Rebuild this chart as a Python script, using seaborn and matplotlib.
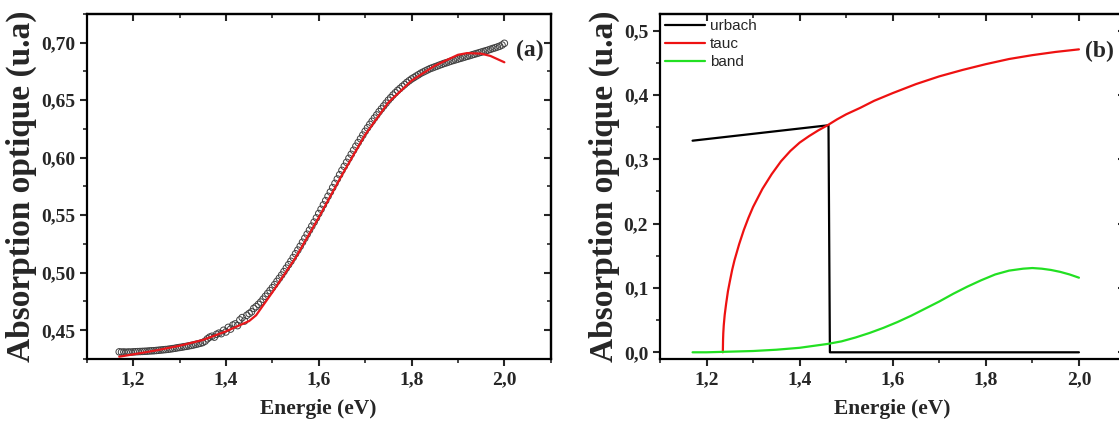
import numpy as np
import pandas as pd
import seaborn as sns
import matplotlib.pyplot as plt
from matplotlib.ticker import MultipleLocator, FuncFormatter

sns.set_style('white')
plt.rcParams['font.family'] = ['Liberation Serif', 'DejaVu Serif']

# (a) measured absorption (circles)
energy_exp = [1.170, 1.175, 1.180, 1.185, 1.190, 1.195, 1.200, 1.205, 1.210, 1.215,
              1.220, 1.225, 1.230, 1.235, 1.240, 1.245, 1.250, 1.255, 1.260, 1.265,
              1.270, 1.275, 1.280, 1.285, 1.290, 1.295, 1.300, 1.305, 1.310, 1.315,
              1.320, 1.325, 1.330, 1.335, 1.340, 1.345, 1.350, 1.355, 1.360, 1.365,
              1.370, 1.375, 1.380, 1.385, 1.390, 1.395, 1.400, 1.405, 1.410, 1.415,
              1.420, 1.425, 1.430, 1.435, 1.440, 1.445, 1.450, 1.455, 1.460, 1.465,
              1.470, 1.475, 1.480, 1.485, 1.490, 1.495, 1.500, 1.505, 1.510, 1.515,
              1.520, 1.525, 1.530, 1.535, 1.540, 1.545, 1.550, 1.555, 1.560, 1.565,
              1.570, 1.575, 1.580, 1.585, 1.590, 1.595, 1.600, 1.605, 1.610, 1.615,
              1.620, 1.625, 1.630, 1.635, 1.640, 1.645, 1.650, 1.655, 1.660, 1.665,
              1.670, 1.675, 1.680, 1.685, 1.690, 1.695, 1.700, 1.705, 1.710, 1.715,
              1.720, 1.725, 1.730, 1.735, 1.740, 1.745, 1.750, 1.755, 1.760, 1.765,
              1.770, 1.775, 1.780, 1.785, 1.790, 1.795, 1.800, 1.805, 1.810, 1.815,
              1.820, 1.825, 1.830, 1.835, 1.840, 1.845, 1.850, 1.855, 1.860, 1.865,
              1.870, 1.875, 1.880, 1.885, 1.890, 1.895, 1.900, 1.905, 1.910, 1.915,
              1.920, 1.925, 1.930, 1.935, 1.940, 1.945, 1.950, 1.955, 1.960, 1.965,
              1.970, 1.975, 1.980, 1.985, 1.990, 1.995, 2.000]
absorb_exp = [0.4312, 0.4310, 0.4311, 0.4309, 0.4311, 0.4310, 0.4312, 0.4313, 0.4314, 0.4315,
              0.4316, 0.4317, 0.4318, 0.4320, 0.4321, 0.4322, 0.4324, 0.4326, 0.4328, 0.4330,
              0.4332, 0.4334, 0.4337, 0.4340, 0.4343, 0.4347, 0.4350, 0.4353, 0.4357, 0.4360,
              0.4364, 0.4368, 0.4372, 0.4377, 0.4382, 0.4387, 0.4393, 0.4405, 0.4425, 0.4440,
              0.4448, 0.4440, 0.4465, 0.4475, 0.4470, 0.4500, 0.4485, 0.4525, 0.4510, 0.4545,
              0.4555, 0.4540, 0.4590, 0.4610, 0.4580, 0.4630, 0.4645, 0.4660, 0.4690, 0.4705,
              0.4725, 0.4745, 0.4770, 0.4795, 0.4820, 0.4845, 0.4870, 0.4897, 0.4925, 0.4952,
              0.4980, 0.5010, 0.5040, 0.5070, 0.5100, 0.5132, 0.5165, 0.5197, 0.5230, 0.5265,
              0.5300, 0.5335, 0.5370, 0.5405, 0.5440, 0.5477, 0.5515, 0.5552, 0.5590, 0.5627,
              0.5665, 0.5702, 0.5740, 0.5777, 0.5815, 0.5852, 0.5890, 0.5925, 0.5960, 0.5995,
              0.6030, 0.6065, 0.6100, 0.6132, 0.6165, 0.6197, 0.6230, 0.6260, 0.6290, 0.6317,
              0.6345, 0.6372, 0.6400, 0.6425, 0.6450, 0.6475, 0.6500, 0.6522, 0.6545, 0.6565,
              0.6585, 0.6602, 0.6620, 0.6637, 0.6655, 0.6670, 0.6685, 0.6697, 0.6710, 0.6722,
              0.6735, 0.6745, 0.6755, 0.6765, 0.6775, 0.6782, 0.6790, 0.6797, 0.6805, 0.6812,
              0.6820, 0.6826, 0.6833, 0.6840, 0.6846, 0.6852, 0.6858, 0.6864, 0.6870, 0.6876,
              0.6882, 0.6888, 0.6894, 0.6900, 0.6906, 0.6912, 0.6918, 0.6924, 0.6930, 0.6936,
              0.6943, 0.6950, 0.6956, 0.6963, 0.6970, 0.6980, 0.6995]

# (a) fit (red)
energy_fit = [1.17, 1.20, 1.25, 1.30, 1.35, 1.40, 1.45, 1.465, 1.50, 1.55, 1.60,
              1.65, 1.70, 1.75, 1.80, 1.85, 1.90, 1.92, 1.95, 1.97, 2.00]
absorb_fit = [0.4270, 0.4290, 0.4325, 0.4365, 0.4415, 0.4490, 0.4580, 0.4630, 0.4830, 0.5130, 0.5480,
              0.5850, 0.6200, 0.6480, 0.6670, 0.6800, 0.6895, 0.6910, 0.6905, 0.6885, 0.6830]

# (b) contributions
energy_urbach = [1.17, 1.462, 1.465, 2.00]
urbach = [0.329, 0.353, 0.0, 0.0]

energy_tauc = [1.235, 1.2355, 1.236, 1.237, 1.239, 1.242, 1.246, 1.25, 1.255, 1.26,
               1.27, 1.28, 1.29, 1.30, 1.32, 1.34, 1.36, 1.38, 1.40, 1.42, 1.44, 1.46,
               1.48, 1.50, 1.53, 1.56, 1.60, 1.65, 1.70, 1.75, 1.80, 1.85, 1.90, 1.95, 2.00]
tauc = [0.000, 0.020, 0.030, 0.042, 0.058, 0.075, 0.095, 0.110, 0.128, 0.143,
        0.168, 0.190, 0.209, 0.226, 0.254, 0.277, 0.297, 0.313, 0.326, 0.336, 0.345, 0.353,
        0.362, 0.370, 0.380, 0.391, 0.403, 0.417, 0.429, 0.439, 0.448, 0.456, 0.462, 0.467, 0.471]

energy_band = [1.17, 1.20, 1.25, 1.30, 1.35, 1.40, 1.43, 1.46, 1.49, 1.52, 1.55, 1.58,
               1.61, 1.64, 1.67, 1.70, 1.73, 1.76, 1.79, 1.82, 1.85, 1.88, 1.90, 1.92,
               1.94, 1.96, 1.98, 2.00]
band = [0.000, 0.000, 0.001, 0.002, 0.004, 0.007, 0.010, 0.013, 0.017, 0.023, 0.030, 0.038,
        0.047, 0.057, 0.068, 0.079, 0.091, 0.102, 0.112, 0.121, 0.127, 0.130, 0.131, 0.130,
        0.128, 0.125, 0.121, 0.116]

comma = FuncFormatter(lambda v, p: ('%.2f' % v).replace('.', ','))
comma1 = FuncFormatter(lambda v, p: ('%.1f' % v).replace('.', ','))


def style_axes(ax, ymajor, yminor, yfmt):
    ax.set_xlim(1.1, 2.1)
    ax.xaxis.set_major_locator(MultipleLocator(0.2))
    ax.xaxis.set_minor_locator(MultipleLocator(0.1))
    ax.yaxis.set_major_locator(MultipleLocator(ymajor))
    ax.yaxis.set_minor_locator(MultipleLocator(yminor))
    ax.xaxis.set_major_formatter(comma1)
    ax.yaxis.set_major_formatter(yfmt)
    for s in ax.spines.values():
        s.set_linewidth(1.6)
        s.set_color('black')
    ax.tick_params(which='major', direction='out', length=5, width=1.5,
                   labelsize=14, bottom=True, left=True)
    ax.tick_params(which='minor', direction='out', length=3, width=1.2,
                   bottom=True, left=True)
    for lab in ax.get_xticklabels() + ax.get_yticklabels():
        lab.set_fontweight('bold')
    # mirrored inward ticks on top and right
    top = ax.secondary_xaxis('top')
    top.xaxis.set_major_locator(MultipleLocator(0.2))
    top.xaxis.set_minor_locator(MultipleLocator(0.1))
    top.tick_params(which='major', direction='in', length=5, width=1.5, labeltop=False)
    top.tick_params(which='minor', direction='in', length=3, width=1.2)
    right = ax.secondary_yaxis('right')
    right.yaxis.set_major_locator(MultipleLocator(ymajor))
    right.yaxis.set_minor_locator(MultipleLocator(yminor))
    right.tick_params(which='major', direction='in', length=5, width=1.5, labelright=False)
    right.tick_params(which='minor', direction='in', length=3, width=1.2)
    for sec in (top, right):
        for s in sec.spines.values():
            s.set_linewidth(1.6)
    ax.set_xlabel('Energie (eV)', fontsize=15.5, fontweight='bold', labelpad=8)
    ax.set_ylabel('Absorption optique (u.a)', fontsize=24, fontweight='bold', labelpad=3)


fig = plt.figure(figsize=(11.19, 4.21), dpi=100)
ax1 = fig.add_axes([0.0775, 0.1473, 0.4147, 0.8195])
ax2 = fig.add_axes([0.5898, 0.1473, 0.4160, 0.8195])

exp_df = pd.DataFrame({'E': energy_exp, 'A': absorb_exp})
fit_df = pd.DataFrame({'E': energy_fit, 'A': absorb_fit})
sns.scatterplot(data=exp_df, x='E', y='A', ax=ax1, marker='o', s=22,
                facecolor='none', edgecolor='#404040', linewidth=0.7, zorder=2)
sns.lineplot(data=fit_df, x='E', y='A', ax=ax1, color='#e8171b', lw=1.6,
             estimator=None, sort=False, zorder=3)
ax1.set_ylim(0.425, 0.725)
style_axes(ax1, 0.05, 0.025, comma)
ax1.text(0.955, 0.895, '(a)', transform=ax1.transAxes, fontsize=17,
         fontweight='bold', ha='center', va='center')

sns.lineplot(x=energy_urbach, y=urbach, ax=ax2, color='black', lw=1.6,
             estimator=None, sort=False, label='urbach')
sns.lineplot(x=energy_tauc, y=tauc, ax=ax2, color='#ee1111', lw=1.6,
             estimator=None, sort=False, label='tauc')
sns.lineplot(x=energy_band, y=band, ax=ax2, color='#22e022', lw=1.6,
             estimator=None, sort=False, label='band')
ax2.set_ylim(-0.0104, 0.526)
style_axes(ax2, 0.1, 0.05, comma1)
ax2.text(0.945, 0.89, '(b)', transform=ax2.transAxes, fontsize=17,
         fontweight='bold', ha='center', va='center')
ax2.legend(loc='upper left', frameon=False, handlelength=2.6, handletextpad=0.3,
           labelspacing=0.25, borderaxespad=0.15, borderpad=0.2,
           prop={'family': 'Liberation Sans', 'size': 11})

fig.savefig('out.png', dpi=100)
